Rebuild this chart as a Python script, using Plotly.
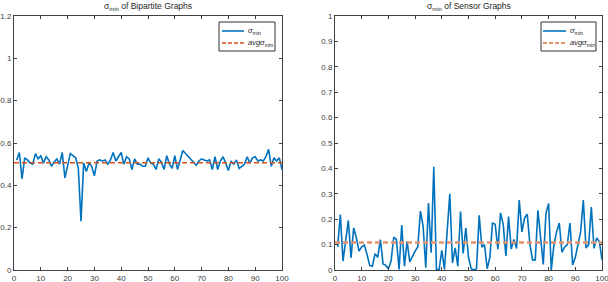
import plotly.graph_objects as go

x_vals = list(range(1, 101))

sigma_bipartite = [
    0.52, 0.555, 0.43, 0.53, 0.52, 0.505, 0.50, 0.55, 0.525, 0.54,
    0.505, 0.535, 0.52, 0.49, 0.51, 0.525, 0.50, 0.555, 0.435, 0.50,
    0.55, 0.54, 0.53, 0.48, 0.23, 0.505, 0.465, 0.505, 0.49, 0.445,
    0.515, 0.52, 0.515, 0.52, 0.50, 0.52, 0.555, 0.515, 0.535, 0.555,
    0.50, 0.535, 0.525, 0.475, 0.525, 0.50, 0.50, 0.49, 0.49, 0.53,
    0.505, 0.50, 0.475, 0.525, 0.51, 0.475, 0.54, 0.50, 0.48, 0.54,
    0.475, 0.52, 0.565, 0.55, 0.535, 0.52, 0.505, 0.495, 0.515, 0.525,
    0.52, 0.515, 0.52, 0.475, 0.535, 0.475, 0.515, 0.535, 0.505, 0.47,
    0.515, 0.50, 0.52, 0.48, 0.49, 0.50, 0.535, 0.505, 0.53, 0.535,
    0.515, 0.52, 0.515, 0.535, 0.57, 0.49, 0.53, 0.515, 0.53, 0.475,
]

sigma_sensor = [
    0.091, 0.218, 0.035, 0.113, 0.195, 0.048, 0.166, 0.127, 0.074, 0.091,
    0.098, 0.061, 0.018, 0.015, 0.064, 0.050, 0.120, 0.024, 0.018, 0.005,
    0.035, 0.129, 0.120, 0.002, 0.177, 0.015, 0.113, 0.032, 0.055, 0.074,
    0.091, 0.232, 0.173, 0.009, 0.264, 0.068, 0.406, 0.002, 0.002, 0.077,
    0.002, 0.160, 0.300, 0.028, 0.087, 0.015, 0.230, 0.065, 0.166, 0.050,
    0.005, 0.000, 0.005, 0.215, 0.090, 0.100, 0.005, 0.050, 0.185, 0.180,
    0.082, 0.225, 0.180, 0.055, 0.210, 0.083, 0.120, 0.085, 0.275, 0.150,
    0.205, 0.220, 0.100, 0.040, 0.040, 0.235, 0.120, 0.022, 0.222, 0.262,
    0.000, 0.100, 0.150, 0.185, 0.070, 0.090, 0.100, 0.185, 0.020, 0.050,
    0.100, 0.150, 0.275, 0.087, 0.100, 0.248, 0.085, 0.126, 0.112, 0.040,
]

avg_bipartite = 0.507
avg_sensor = 0.108
avg_x = [0, 100]

x_ticks = list(range(0, 101, 10))
y_ticks_left = [0, 0.2, 0.4, 0.6, 0.8, 1.0, 1.2]
y_tick_text_left = ["0", "0.2", "0.4", "0.6", "0.8", "1", "1.2"]
y_ticks_right = [round(0.1 * i, 1) for i in range(11)]
y_tick_text_right = ["0"] + ["%.1f" % v for v in y_ticks_right[1:10]] + ["1"]

titles = ["σ<sub>min</sub> of Bipartite Graphs", "σ<sub>min</sub> of Sensor Graphs"]
legend_names = ["<i>σ</i><sub>min</sub>", "<i>avgσ</i><sub>min</sub>"]

BLUE = "#0072BD"
ORANGE = "#D95319"
ORANGE_R = "#E6916A"
AXC = "#404040"
FONT = "Liberation Sans, Arial, sans-serif"
W, H = 608, 282


def px(x):
    return x / W


def py(y):
    return (H - y) / H


fig = go.Figure()

fig.add_trace(go.Scatter(x=x_vals, y=sigma_bipartite, mode="lines", name=legend_names[0],
                         line=dict(color=BLUE, width=1.6), xaxis="x", yaxis="y"))
fig.add_trace(go.Scatter(x=avg_x, y=[avg_bipartite, avg_bipartite], mode="lines", name=legend_names[1],
                         line=dict(color=ORANGE, width=1.4, dash="5px,3px"), xaxis="x", yaxis="y"))
fig.add_trace(go.Scatter(x=x_vals, y=sigma_sensor, mode="lines", name=legend_names[0],
                         line=dict(color=BLUE, width=1.6), xaxis="x2", yaxis="y2"))
fig.add_trace(go.Scatter(x=avg_x, y=[avg_sensor, avg_sensor], mode="lines", name=legend_names[1],
                         line=dict(color=ORANGE_R, width=2.4, dash="5px,3px"), xaxis="x2", yaxis="y2"))

ax_common = dict(showline=True, linecolor=AXC, linewidth=1, mirror="ticks", ticks="inside",
                 ticklen=3, tickcolor=AXC, showgrid=False, zeroline=False, automargin=False,
                 ticklabeloverflow="allow",
                 tickfont=dict(family=FONT, size=8, color=AXC))

xl0, xl1 = px(14), px(282)
xr0, xr1 = px(335), px(602)
yb, yt = py(270), py(16)

# manual legends (box, line samples, labels) in paper coordinates
shapes = []
annotations = []
legend_boxes = [
    dict(x0=219, x1=275, lx0=222, lx1=244, tx=246, colors=[BLUE, ORANGE], widths=[1.6, 1.4]),
    dict(x0=541, x1=596, lx0=543, lx1=566, tx=568, colors=[BLUE, ORANGE_R], widths=[1.6, 2.0]),
]
row_y = [31, 43]
for lb in legend_boxes:
    shapes.append(dict(type="rect", xref="paper", yref="paper",
                       x0=px(lb["x0"]), x1=px(lb["x1"]), y0=py(51), y1=py(22),
                       line=dict(color="#303030", width=1), fillcolor="white", layer="above"))
    for i, name in enumerate(legend_names):
        shapes.append(dict(type="line", xref="paper", yref="paper",
                           x0=px(lb["lx0"]), x1=px(lb["lx1"]), y0=py(row_y[i]), y1=py(row_y[i]),
                           line=dict(color=lb["colors"][i], width=lb["widths"][i],
                                     dash="solid" if i == 0 else "4px,2px"),
                           layer="above"))
        annotations.append(dict(text=name, x=px(lb["tx"]), y=py(row_y[i]), xref="paper", yref="paper",
                                xanchor="left", yanchor="middle", showarrow=False,
                                font=dict(family=FONT, size=7.5, color="#262626")))

annotations.append(dict(text=titles[0], x=(xl0 + xl1) / 2, y=py(7), xref="paper", yref="paper",
                        xanchor="center", yanchor="middle", showarrow=False,
                        font=dict(family=FONT, size=8.5, color="#262626")))
annotations.append(dict(text=titles[1], x=(xr0 + xr1) / 2, y=py(7), xref="paper", yref="paper",
                        xanchor="center", yanchor="middle", showarrow=False,
                        font=dict(family=FONT, size=8.5, color="#262626")))

fig.update_layout(
    width=W, height=H,
    margin=dict(l=0, r=0, t=0, b=0),
    paper_bgcolor="white", plot_bgcolor="white",
    font=dict(family=FONT, size=8, color="#262626"),
    showlegend=False,
    xaxis=dict(domain=[xl0, xl1], range=[0, 100], tickvals=x_ticks, anchor="y", **ax_common),
    yaxis=dict(domain=[yb, yt], range=[0, 1.2], tickvals=y_ticks_left, ticktext=y_tick_text_left,
               anchor="x", **ax_common),
    xaxis2=dict(domain=[xr0, xr1], range=[0, 100], tickvals=x_ticks, anchor="y2", **ax_common),
    yaxis2=dict(domain=[yb, yt], range=[0, 1], tickvals=y_ticks_right, ticktext=y_tick_text_right,
                anchor="x2", **ax_common),
    shapes=shapes,
    annotations=annotations,
)

fig.write_html("out.html",
               config={"displayModeBar": False},
               post_script="document.body.style.margin='0px';document.body.style.overflow='hidden';")
